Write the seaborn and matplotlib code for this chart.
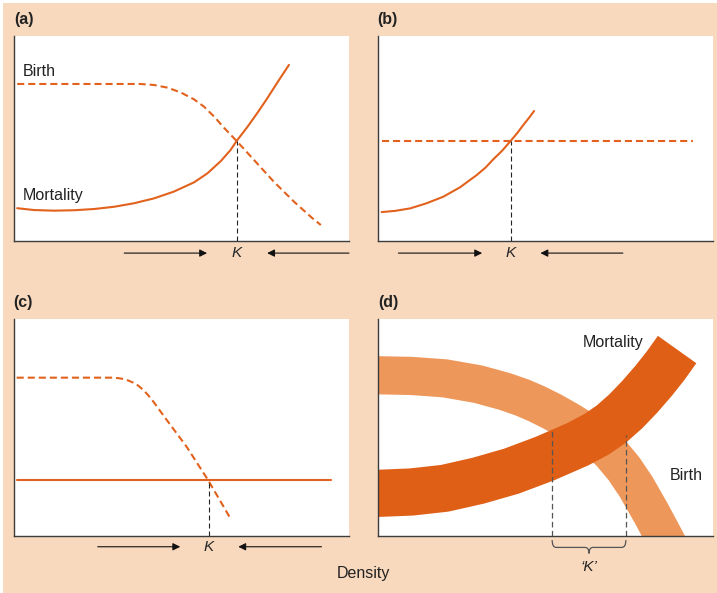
import numpy as np
import pandas as pd
import matplotlib
matplotlib.use("Agg")
import matplotlib.pyplot as plt
from matplotlib.path import Path
from matplotlib.patches import PathPatch, Rectangle
import seaborn as sns

# values, in axis fractions (0..1)
# (a) birth falls with density, mortality rises
a_birth_x = [0.011, 0.379, 0.419, 0.459, 0.498, 0.538, 0.568, 0.598, 0.627, 0.665,
             0.717, 0.776, 0.836, 0.891, 0.916]
a_birth_y = [0.766, 0.766, 0.761, 0.748, 0.725, 0.691, 0.655, 0.607, 0.553, 0.488,
             0.395, 0.289, 0.192, 0.111, 0.078]
a_mort_x = [0.011, 0.061, 0.121, 0.180, 0.240, 0.300, 0.359, 0.419, 0.478, 0.538,
            0.578, 0.618, 0.647, 0.665, 0.697, 0.727, 0.756, 0.786, 0.821]
a_mort_y = [0.160, 0.151, 0.148, 0.150, 0.156, 0.167, 0.184, 0.208, 0.241, 0.286,
            0.330, 0.390, 0.444, 0.488, 0.556, 0.625, 0.695, 0.772, 0.859]
a_k = (0.665, 0.488)

# (b) birth constant, mortality rises
b_birth_x = [0.010, 0.940]
b_birth_y = [0.488, 0.488]
b_mort_x = [0.010, 0.050, 0.095, 0.144, 0.194, 0.244, 0.294, 0.320, 0.343, 0.370,
            0.395, 0.415, 0.433, 0.450, 0.465]
b_mort_y = [0.141, 0.147, 0.159, 0.184, 0.216, 0.262, 0.322, 0.358, 0.398, 0.441,
            0.488, 0.527, 0.566, 0.601, 0.634]
b_k = (0.395, 0.488)

# (c) birth falls, mortality constant
c_birth_x = [0.0095, 0.297, 0.312, 0.327, 0.342, 0.357, 0.372, 0.387, 0.402, 0.417,
             0.457, 0.516, 0.580, 0.648]
c_birth_y = [0.729, 0.729, 0.727, 0.723, 0.716, 0.706, 0.692, 0.672, 0.647, 0.618,
             0.533, 0.410, 0.256, 0.075]
c_mort_x = [0.0095, 0.946]
c_mort_y = [0.256, 0.256]
c_k = (0.582, 0.256)

# (d) broad bands -> a range of K
d_birth_x = [-0.05, 0.004, 0.099, 0.198, 0.298, 0.378, 0.430, 0.472, 0.520, 0.568,
             0.613, 0.653, 0.693, 0.733, 0.770, 0.815, 0.860, 0.900]
d_birth_y = [0.741, 0.740, 0.737, 0.726, 0.699, 0.665, 0.637, 0.609, 0.572, 0.530,
             0.487, 0.441, 0.383, 0.309, 0.224, 0.102, -0.028, -0.150]
d_mort_x = [-0.05, 0.004, 0.099, 0.198, 0.298, 0.397, 0.497, 0.596, 0.652, 0.696,
            0.739, 0.780, 0.821, 0.857, 0.892]
d_mort_y = [0.194, 0.195, 0.201, 0.218, 0.253, 0.297, 0.355, 0.422, 0.468, 0.515,
            0.574, 0.640, 0.713, 0.783, 0.859]
d_k_low = (0.519, 0.483)
d_k_high = (0.739, 0.462)

# arrows under panels a-c: (start, end) of the right-pointing and left-pointing arrow
arrows = {
    "a": [(0.330, 0.577), (1.000, 0.756)],
    "b": [(0.060, 0.310), (0.730, 0.484)],
    "c": [(0.251, 0.497), (0.918, 0.670)],
}

PEACH = "#F8D9BE"
LINE = "#E2621D"
LIGHT = "#EE975A"
DARK = "#E05F16"
AXIS = "#3C3C3C"

sns.set_theme(style="white")
plt.rcParams["font.family"] = ["Liberation Sans", "DejaVu Sans"]

W, H = 717, 593
fig = plt.figure(figsize=(W / 100, H / 100), dpi=100, facecolor="white")
fig.patches.append(Rectangle((3 / W, 0), 1, 1 - 3 / H, transform=fig.transFigure,
                             facecolor=PEACH, edgecolor="none", zorder=-10))


def make_axes(left, top, right, bottom):
    ax = fig.add_axes([left / W, 1 - bottom / H, (right - left) / W, (bottom - top) / H])
    ax.set_xlim(0, 1)
    ax.set_ylim(0, 1)
    ax.set_xticks([])
    ax.set_yticks([])
    ax.set_facecolor("white")
    for side in ["top", "right"]:
        ax.spines[side].set_visible(False)
    for side in ["left", "bottom"]:
        ax.spines[side].set_color(AXIS)
        ax.spines[side].set_linewidth(1.0)
        ax.spines[side].set_zorder(5)
    return ax


def curve(ax, x, y, dashed=False, **kw):
    df = pd.DataFrame({"x": x, "y": y})
    sns.lineplot(data=df, x="x", y="y", ax=ax, estimator=None, sort=False,
                 legend=False, solid_joinstyle="round", dash_joinstyle="round", **kw)
    line = ax.get_lines()[-1]
    if dashed:
        line.set_dashes((3.4, 1.9))
    ax.set_xlabel("")
    ax.set_ylabel("")
    return line


def k_marker(ax, k, arrow_pair, y_arrow):
    ax.plot([k[0], k[0]], [0, k[1]], color="#222222", lw=0.8, dashes=(4.5, 2.7), zorder=3)
    ax.text(k[0], y_arrow, "K", style="italic", fontsize=11, ha="center", va="center",
            transform=ax.transAxes, clip_on=False)
    for x0, x1 in arrow_pair:
        ax.annotate("", xy=(x1, y_arrow), xytext=(x0, y_arrow),
                    xycoords="axes fraction", textcoords="axes fraction",
                    annotation_clip=False,
                    arrowprops=dict(arrowstyle="-|>", color="#111111", lw=0.8,
                                    mutation_scale=11, shrinkA=0, shrinkB=0))


ax_a = make_axes(13.5, 36, 349, 241)
ax_b = make_axes(378.3, 36, 713.3, 241)
ax_c = make_axes(13.5, 319, 349, 535.5)
ax_d = make_axes(378.3, 319, 713.3, 535.5)

# (a)
curve(ax_a, a_birth_x, a_birth_y, dashed=True, color=LINE, lw=1.5)
curve(ax_a, a_mort_x, a_mort_y, color=LINE, lw=1.5)
k_marker(ax_a, a_k, arrows["a"], -0.059)
ax_a.text(0.029, 0.829, "Birth", fontsize=11.5, va="center", color="#222222", transform=ax_a.transAxes)
ax_a.text(0.029, 0.224, "Mortality", fontsize=11.5, va="center", color="#222222", transform=ax_a.transAxes)

# (b)
curve(ax_b, b_birth_x, b_birth_y, dashed=True, color=LINE, lw=1.5)
curve(ax_b, b_mort_x, b_mort_y, color=LINE, lw=1.5)
k_marker(ax_b, b_k, arrows["b"], -0.059)

# (c)
curve(ax_c, c_birth_x, c_birth_y, dashed=True, color=LINE, lw=1.5)
curve(ax_c, c_mort_x, c_mort_y, color=LINE, lw=1.5)
k_marker(ax_c, c_k, arrows["c"], -0.052)

# (d)
curve(ax_d, d_birth_x, d_birth_y, color=LIGHT, lw=27.5, solid_capstyle="butt", zorder=2)
curve(ax_d, d_mort_x, d_mort_y, color=DARK, lw=34, solid_capstyle="butt", zorder=2.5)
for k in (d_k_low, d_k_high):
    ax_d.plot([k[0], k[0]], [0, k[1]], color="#555555", lw=0.9, dashes=(4.5, 2.7), zorder=3)
ax_d.text(0.61, 0.892, "Mortality", fontsize=11.5, va="center", color="#222222", transform=ax_d.transAxes)
ax_d.text(0.869, 0.279, "Birth", fontsize=11.5, va="center", color="#222222", transform=ax_d.transAxes)

# brace spanning the range of K
xl, xr = d_k_low[0], d_k_high[0]
xm = (xl + xr) / 2
y0, y1, y2 = -0.021, -0.055, -0.083
dx = 0.012
verts = [(xl, y0), (xl, y1), (xl + dx, y1), (xm - dx, y1), (xm, y1), (xm, y2),
         (xm, y1), (xm + dx, y1), (xr - dx, y1), (xr, y1), (xr, y0)]
codes = [Path.MOVETO, Path.CURVE3, Path.CURVE3, Path.LINETO, Path.CURVE3, Path.CURVE3,
         Path.CURVE3, Path.CURVE3, Path.LINETO, Path.CURVE3, Path.CURVE3]
ax_d.add_patch(PathPatch(Path(verts, codes), transform=ax_d.transAxes, facecolor="none",
                         edgecolor="#555555", lw=0.9, clip_on=False))
ax_d.text(xm, -0.145, "\u2018K\u2019", style="italic", fontsize=11, ha="center", va="center",
          transform=ax_d.transAxes, clip_on=False)

# panel letters and shared x label
for lab, px, py in [("(a)", 14, 19.5), ("(b)", 377.5, 19.5), ("(c)", 13.5, 303), ("(d)", 378, 303)]:
    fig.text(px / W, 1 - py / H, lab, fontsize=11.5, fontweight="bold", ha="left", va="center",
             color="#222222")
fig.text(363.3 / W, 1 - 573.3 / H, "Density", fontsize=11.5, ha="center", va="center", color="#222222")

fig.savefig("out.png", dpi=100, facecolor=fig.get_facecolor())
